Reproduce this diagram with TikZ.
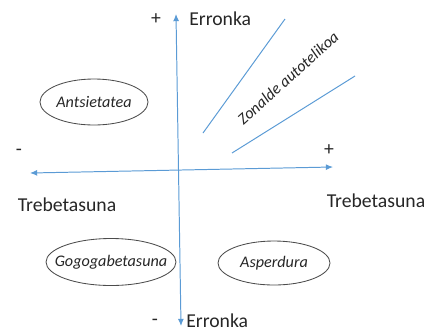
\documentclass[tikz,border=0pt]{standalone}
\usepackage{fontspec}
\setmainfont{Carlito}
\usetikzlibrary{arrows.meta,shapes.geometric}
\definecolor{axisBlue}{RGB}{91,155,213}
\colorlet{ringGray}{black!70}
\tikzset{
  >=Latex,
  axis/.style={
    {Latex[length=1.8mm,width=1.5mm]}-{Latex[length=1.8mm,width=1.5mm]},
    draw=axisBlue,
    line width=0.7pt
  },
  ray/.style={
    draw=axisBlue,
    line width=0.7pt
  },
  ring/.style={
    draw=ringGray,
    line width=0.6pt
  },
  zone/.style={
    inner sep=0pt,
    font=\fontsize{11.5}{13}\selectfont\itshape,
    text=black!85
  },
  lbl/.style={
    font=\fontsize{14}{16}\selectfont,
    text=black!85,
    inner sep=0pt
  }
}
\begin{document}
\begin{tikzpicture}[x=0.025cm,y=-0.025cm]
\useasboundingbox (0,0) rectangle (432,331);

% axes
\coordinate (top) at (176,14);
\coordinate (bottom) at (181,326);
\coordinate (left) at (30,173);
\coordinate (right) at (333,167);
\draw[axis] (bottom) -- (top);
\draw[axis] (left) -- (right);

% axis labels
\node[lbl] (plusTop) at (156,19) {+};
\node[lbl, anchor=west] (erronkaTop) at (189,19) {Erronka};
\node[lbl] (minusLeft) at (19,152) {-};
\node[lbl] (plusRight) at (329,150) {+};
\node[lbl] (trebLeft) at (67,205) {Trebetasuna};
\node[lbl] (trebRight) at (376,201) {Trebetasuna};
\node[lbl] (minusBottom) at (155,322) {-};
\node[lbl, anchor=west] (erronkaBottom) at (186,321) {Erronka};

% autotelic zone
\coordinate (rayAs) at (203,133);
\coordinate (rayAe) at (285,19);
\coordinate (rayBs) at (232,153);
\coordinate (rayBe) at (355,76);
\draw[ray] (rayAs) -- (rayAe);
\draw[ray] (rayBs) -- (rayBe);
\node[zone, rotate=42] (autotelic) at (288,78) {Zonalde autotelikoa};

% states
\node[zone] (anxiety) at (94,102) {Antsietatea};
\draw[ring] (anxiety.center) ellipse [x radius=54, y radius=23];
\node[zone] (apathy) at (111,262) {Gogogabetasuna};
\draw[ring] (apathy.center) ellipse [x radius=65, y radius=23.5];
\node[zone] (boredom) at (274,263) {Asperdura};
\draw[ring] (boredom.center) ellipse [x radius=56, y radius=22];

\end{tikzpicture}
\end{document}
